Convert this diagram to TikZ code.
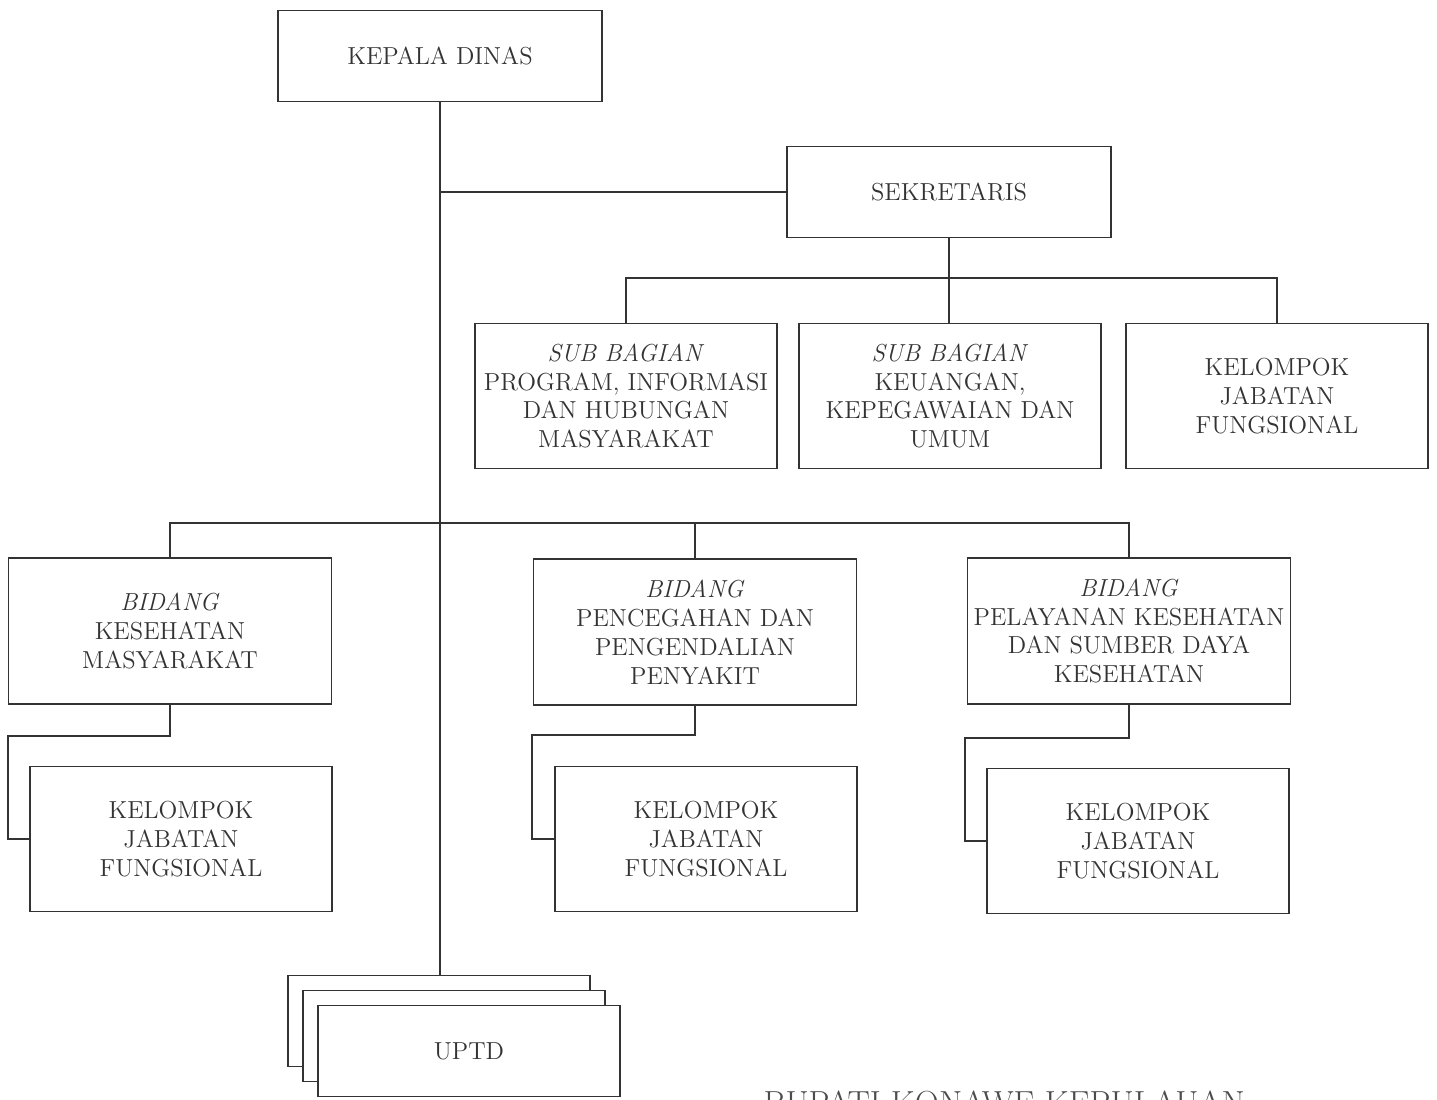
\documentclass[tikz,border=0pt]{standalone}
\usepackage{tikz}
\definecolor{garis}{HTML}{333333}
\tikzset{
	kotak/.style={draw=garis,line width=1pt,fill=white,align=center,inner sep=0pt,
		font=\fontsize{14}{16.4}\selectfont,text=black!80},
	kecil/.style={kotak,minimum width=64.8mm,minimum height=18.2mm},
	lebar/.style={kotak,minimum width=60.4mm,minimum height=29mm},
	bidang/.style={kotak,minimum width=64.6mm,minimum height=29.2mm},
	uptd/.style={kotak,minimum width=60.4mm,minimum height=18.2mm},
}
\begin{document}
\begin{tikzpicture}[x=0.2mm,y=-0.2mm,line width=1pt,draw=garis]
		\clip (0,0) rectangle (1437,1099);
		\fill[white] (0,0) rectangle (1437,1099);
		\node[kecil](kepala) at (440,56) {KEPALA DINAS};
		\node[kecil](sek) at (949,192) {SEKRETARIS};
		\node[lebar](sub1) at (626,396) {\textit{SUB BAGIAN}\\PROGRAM, INFORMASI\\DAN HUBUNGAN\\MASYARAKAT};
		\node[lebar](sub2) at (950,396) {\textit{SUB BAGIAN}\\KEUANGAN,\\KEPEGAWAIAN DAN\\UMUM};
		\node[lebar](kel0) at (1277,396) {KELOMPOK\\JABATAN\\FUNGSIONAL};
		\node[bidang](bid1) at (170,631) {\textit{BIDANG}\\KESEHATAN\\MASYARAKAT};
		\node[bidang](bid2) at (695,632) {\textit{BIDANG}\\PENCEGAHAN DAN\\PENGENDALIAN\\PENYAKIT};
		\node[bidang](bid3) at (1129,631) {\textit{BIDANG}\\PELAYANAN KESEHATAN\\DAN SUMBER DAYA\\KESEHATAN};
		\node[lebar](kel1) at (181,839) {KELOMPOK\\JABATAN\\FUNGSIONAL};
		\node[lebar](kel2) at (706,839) {KELOMPOK\\JABATAN\\FUNGSIONAL};
		\node[lebar](kel3) at (1138,841) {KELOMPOK\\JABATAN\\FUNGSIONAL};
		% tumpukan UPTD
		\node[uptd](uptd1) at (439,1021) {};
		\node[uptd](uptd2) at (454,1036) {};
		\node[uptd](uptd3) at (469,1051) {UPTD};
		% garis
		\draw (kepala.south) -- (kepala.south |- uptd1.north);
		\draw (sek.west) -- (sek.west -| kepala.south);
		\draw (sek.south) -- (sek.south |- sub2.north);
		\draw (sub1.north) -- ++(0,-45) -| (kel0.north);
		\draw (bid1.north) -- ++(0,-34) -| (bid3.north);
		\draw (bid2.north) -- ++(0,-35);
		\draw (bid1.south) -- ++(0,31) -| ([xshift=-4.2mm]kel1.west) -- (kel1.west);
		\draw (bid2.south) -- ++(0,29) -| ([xshift=-4.4mm]kel2.west) -- (kel2.west);
		\draw (bid3.south) -- ++(0,33) -| ([xshift=-4.2mm]kel3.west) -- (kel3.west);
		\node[anchor=base west,text=black!70,font=\fontsize{19}{22}\selectfont](bupati) at (757,1114) {BUPATI KONAWE KEPULAUAN};
	\end{tikzpicture}
\end{document}
